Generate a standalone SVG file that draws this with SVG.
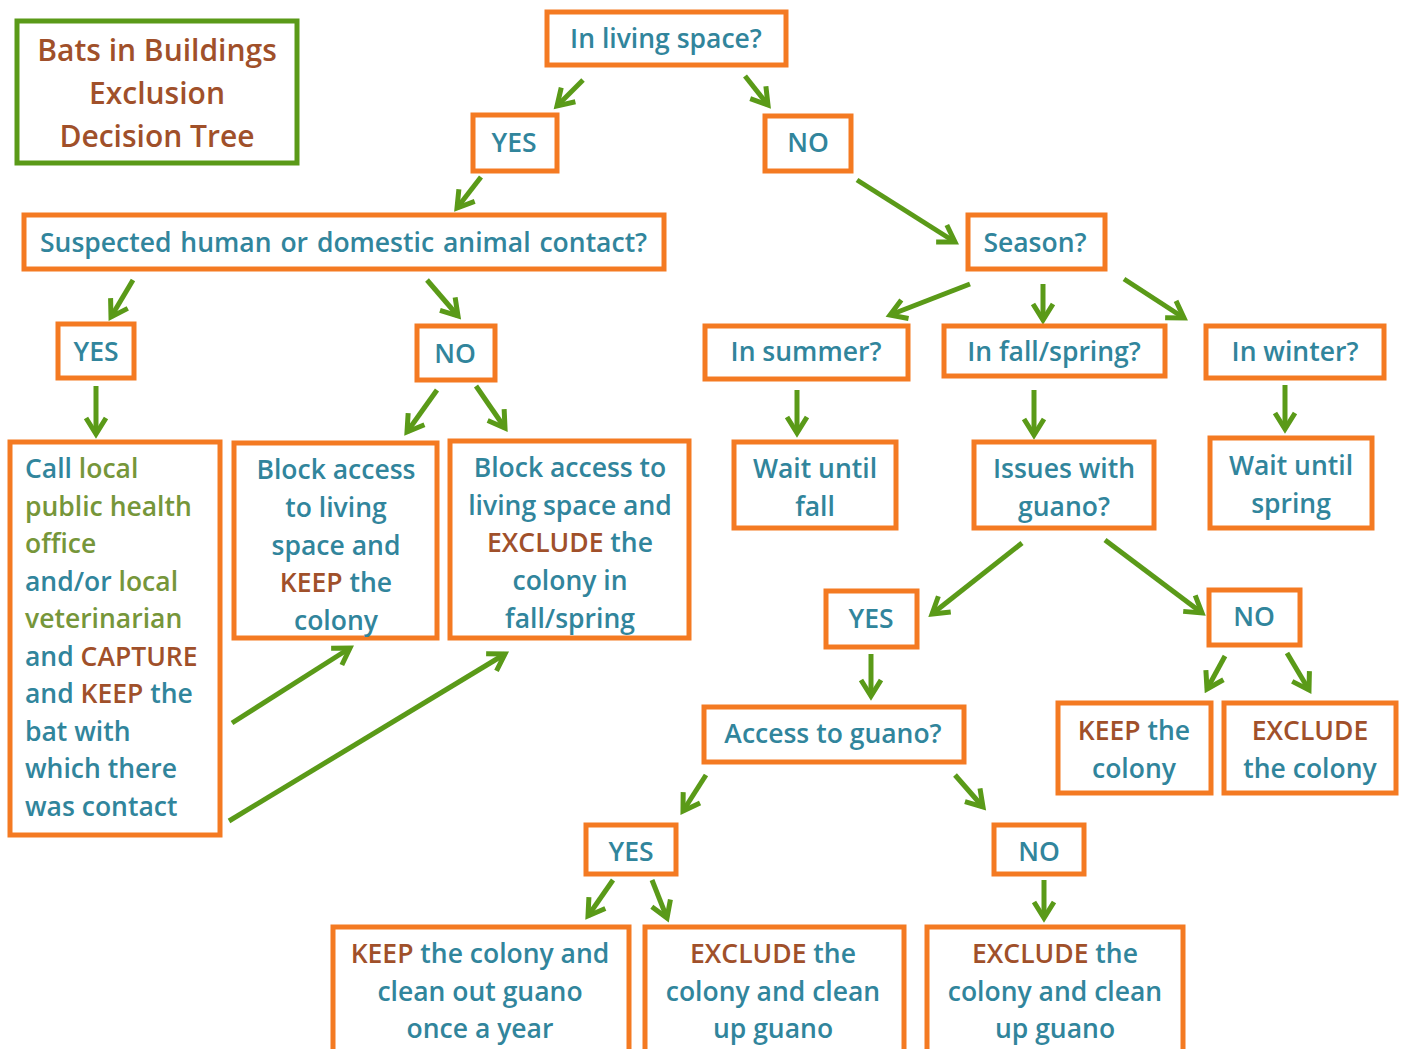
<svg xmlns="http://www.w3.org/2000/svg" width="1405" height="1049" viewBox="0 0 1405 1049">
<style>
.b{fill:#fff;stroke:#F47A22;stroke-width:5}
.tb{fill:#fff;stroke:#5A9A18;stroke-width:5}
text{font-family:"Open Sans",Lato,"Liberation Sans",sans-serif;font-weight:600;font-size:26.5px;fill:#31859C}
.c{text-anchor:middle}
.g{fill:#76963A}
.r{fill:#A0502A}
.t{fill:#A0502A;font-size:30px}
.a{stroke:#5A9A18;stroke-width:5;fill:none;marker-end:url(#h)}
</style>
<defs>
<marker id="h" markerUnits="userSpaceOnUse" viewBox="0 0 26 26" markerWidth="26" markerHeight="26" refX="21" refY="13" orient="auto">
<path d="M5,3 L21,13 L5,23" fill="none" stroke="#5A9A18" stroke-width="5" stroke-linejoin="miter"/>
</marker>
</defs>
<rect width="1405" height="1049" fill="#fff"/>
<g id="title">
<rect class="tb" x="17" y="21" width="280" height="142"/>
<text class="c t" x="157" y="61">Bats in Buildings</text>
<text class="c t" x="157" y="104">Exclusion</text>
<text class="c t" x="157" y="147">Decision Tree</text>
</g>
<g id="connectors">
<line class="a" x1="583" y1="80" x2="557" y2="106"/>
<line class="a" x1="745" y1="76" x2="768" y2="105"/>
<line class="a" x1="481" y1="177" x2="457" y2="208"/>
<line class="a" x1="857" y1="180" x2="955" y2="242"/>
<line class="a" x1="133" y1="280" x2="111" y2="317"/>
<line class="a" x1="427" y1="280" x2="458" y2="316"/>
<line class="a" x1="970" y1="284" x2="890" y2="315"/>
<line class="a" x1="1043" y1="284" x2="1043" y2="320"/>
<line class="a" x1="1124" y1="279" x2="1184" y2="318"/>
<line class="a" x1="96" y1="386" x2="96" y2="434"/>
<line class="a" x1="437" y1="390" x2="407" y2="432"/>
<line class="a" x1="476" y1="386" x2="505" y2="428"/>
<line class="a" x1="797" y1="390" x2="797" y2="433"/>
<line class="a" x1="1034" y1="390" x2="1034" y2="435"/>
<line class="a" x1="1285" y1="385" x2="1285" y2="429"/>
<line class="a" x1="232" y1="723" x2="350" y2="648"/>
<line class="a" x1="229" y1="821" x2="505" y2="654"/>
<line class="a" x1="1022" y1="543" x2="932" y2="614"/>
<line class="a" x1="1105" y1="540" x2="1202" y2="613"/>
<line class="a" x1="871" y1="654" x2="871" y2="696"/>
<line class="a" x1="1225" y1="656" x2="1207" y2="689"/>
<line class="a" x1="1287" y1="653" x2="1309" y2="690"/>
<line class="a" x1="706" y1="775" x2="683" y2="811"/>
<line class="a" x1="955" y1="775" x2="983" y2="807"/>
<line class="a" x1="613" y1="880" x2="588" y2="916"/>
<line class="a" x1="652" y1="880" x2="667" y2="918"/>
<line class="a" x1="1044" y1="880" x2="1044" y2="918"/>
</g>
<g id="n-living">
<rect class="b" x="547" y="12" width="239" height="53"/>
<text class="c" x="666" y="48">In living space?</text>
</g>
<g id="n-yes1">
<rect class="b" x="473" y="115" width="84" height="56"/>
<text class="c" x="514" y="152">YES</text>
</g>
<g id="n-no1">
<rect class="b" x="765" y="116" width="86" height="55"/>
<text class="c" x="808" y="152">NO</text>
</g>
<g id="n-contact">
<rect class="b" x="24" y="215" width="640" height="54"/>
<text x="40" y="252" word-spacing="2">Suspected human or domestic animal contact?</text>
</g>
<g id="n-season">
<rect class="b" x="968" y="215" width="137" height="54"/>
<text class="c" x="1035" y="252">Season?</text>
</g>
<g id="n-yes2">
<rect class="b" x="58" y="324" width="76" height="54"/>
<text class="c" x="96" y="361">YES</text>
</g>
<g id="n-no2">
<rect class="b" x="417" y="326" width="78" height="54"/>
<text class="c" x="455" y="363">NO</text>
</g>
<g id="n-summer">
<rect class="b" x="705" y="326" width="203" height="53"/>
<text class="c" x="806" y="361">In summer?</text>
</g>
<g id="n-fallspring">
<rect class="b" x="944" y="326" width="221" height="50"/>
<text class="c" x="1054" y="361">In fall/spring?</text>
</g>
<g id="n-winter">
<rect class="b" x="1206" y="326" width="178" height="52"/>
<text class="c" x="1295" y="361">In winter?</text>
</g>
<g id="n-call">
<rect class="b" x="10" y="442" width="210" height="393"/>
<text x="25" y="478">Call <tspan class="g">local</tspan></text>
<text x="25" y="516" class="g">public health</text>
<text x="25" y="553" class="g">office</text>
<text x="25" y="591">and/or <tspan class="g">local</tspan></text>
<text x="25" y="628" class="g">veterinarian</text>
<text x="25" y="666">and <tspan class="r">CAPTURE</tspan></text>
<text x="25" y="703">and <tspan class="r">KEEP</tspan> the</text>
<text x="25" y="741">bat with</text>
<text x="25" y="778">which there</text>
<text x="25" y="816">was contact</text>
</g>
<g id="n-blockkeep">
<rect class="b" x="234" y="443" width="203" height="195"/>
<text class="c" x="336" y="479">Block access</text>
<text class="c" x="336" y="517">to living</text>
<text class="c" x="336" y="555">space and</text>
<text class="c" x="336" y="592"><tspan class="r">KEEP</tspan> the</text>
<text class="c" x="336" y="630">colony</text>
</g>
<g id="n-blockexclude">
<rect class="b" x="450" y="441" width="239" height="197"/>
<text class="c" x="570" y="477">Block access to</text>
<text class="c" x="570" y="515">living space and</text>
<text class="c" x="570" y="552"><tspan class="r">EXCLUDE</tspan> the</text>
<text class="c" x="570" y="590">colony in</text>
<text class="c" x="570" y="628">fall/spring</text>
</g>
<g id="n-waitfall">
<rect class="b" x="734" y="442" width="162" height="86"/>
<text class="c" x="815" y="478">Wait until</text>
<text class="c" x="815" y="516">fall</text>
</g>
<g id="n-issues">
<rect class="b" x="974" y="442" width="180" height="86"/>
<text class="c" x="1064" y="478">Issues with</text>
<text class="c" x="1064" y="516">guano?</text>
</g>
<g id="n-waitspring">
<rect class="b" x="1210" y="438" width="162" height="90"/>
<text class="c" x="1291" y="475">Wait until</text>
<text class="c" x="1291" y="513">spring</text>
</g>
<g id="n-yes3">
<rect class="b" x="826" y="591" width="91" height="56"/>
<text class="c" x="871" y="628">YES</text>
</g>
<g id="n-no3">
<rect class="b" x="1209" y="590" width="91" height="55"/>
<text class="c" x="1254" y="626">NO</text>
</g>
<g id="n-access">
<rect class="b" x="704" y="707" width="260" height="55"/>
<text class="c" x="833" y="743">Access to guano?</text>
</g>
<g id="n-keep">
<rect class="b" x="1058" y="703" width="153" height="90"/>
<text class="c r" x="1134" y="740">KEEP <tspan fill="#31859C">the</tspan></text>
<text class="c" x="1134" y="778">colony</text>
</g>
<g id="n-exclude">
<rect class="b" x="1224" y="703" width="172" height="90"/>
<text class="c r" x="1310" y="740">EXCLUDE</text>
<text class="c" x="1310" y="778">the colony</text>
</g>
<g id="n-yes4">
<rect class="b" x="586" y="825" width="90" height="49"/>
<text class="c" x="631" y="861">YES</text>
</g>
<g id="n-no4">
<rect class="b" x="994" y="825" width="90" height="49"/>
<text class="c" x="1039" y="861">NO</text>
</g>
<g id="n-keepclean">
<rect class="b" x="333" y="927" width="296" height="130"/>
<text class="c" x="480" y="963"><tspan class="r">KEEP</tspan> the colony and</text>
<text class="c" x="480" y="1001">clean out guano</text>
<text class="c" x="480" y="1038">once a year</text>
</g>
<g id="n-excludeclean1">
<rect class="b" x="645" y="927" width="259" height="130"/>
<text class="c" x="773" y="963"><tspan class="r">EXCLUDE</tspan> the</text>
<text class="c" x="773" y="1001">colony and clean</text>
<text class="c" x="773" y="1038">up guano</text>
</g>
<g id="n-excludeclean2">
<rect class="b" x="927" y="927" width="256" height="130"/>
<text class="c" x="1055" y="963"><tspan class="r">EXCLUDE</tspan> the</text>
<text class="c" x="1055" y="1001">colony and clean</text>
<text class="c" x="1055" y="1038">up guano</text>
</g>
</svg>
